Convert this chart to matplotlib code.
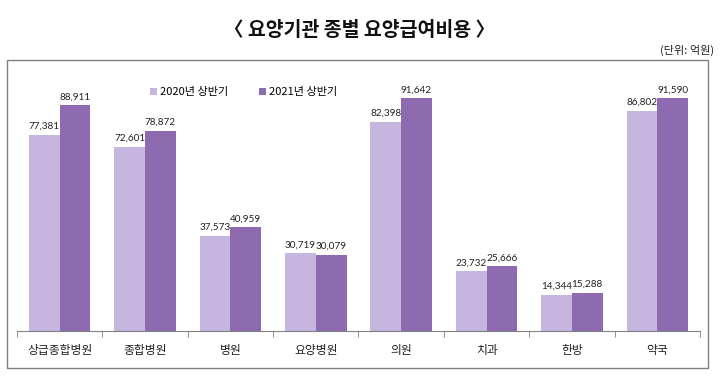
import numpy as np
import matplotlib.pyplot as plt
from matplotlib.patches import Rectangle

plt.rcParams['font.family'] = ['Noto Sans CJK KR', 'DejaVu Sans']

# 요양기관 종별 요양급여비용 (단위: 억원)
categories = ['상급종합병원', '종합병원', '병원', '요양병원', '의원', '치과', '한방', '약국']
h1_2020 = [77381, 72601, 37573, 30719, 82398, 23732, 14344, 86802]
h1_2021 = [88911, 78872, 40959, 30079, 91642, 25666, 15288, 91590]
series_names = ['2020년 상반기', '2021년 상반기']

light = '#C6B5DF'
dark = '#8E6BB1'

fig = plt.figure(figsize=(7.2, 3.77), dpi=100)

# outer frame round the chart
fig.patches.append(Rectangle((0.0097, 0.024), 0.974, 0.817, transform=fig.transFigure,
                             fill=False, edgecolor='#808080', linewidth=1.0))

ax = fig.add_axes([0.0236, 0.1207, 0.9486, 0.675])

x = np.arange(len(categories))
w = 0.36
b1 = ax.bar(x - w / 2, h1_2020, w, color=light, label=series_names[0])
b2 = ax.bar(x + w / 2, h1_2021, w, color=dark, label=series_names[1])

for bars, vals in ((b1, h1_2020), (b2, h1_2021)):
    for bar, v in zip(bars, vals):
        ax.text(bar.get_x() + bar.get_width() / 2, v + 1500, f'{v:,}',
                ha='center', va='bottom', fontsize=7.2, family=['Lato', 'DejaVu Sans'],
                color='#222222')

ax.set_xlim(-0.5, len(categories) - 0.5)
ax.set_ylim(0, 100000)
ax.set_yticks([])
ax.set_xticks(x)
ax.set_xticklabels(categories, fontsize=8.5, color='#222222')
ax.tick_params(axis='x', which='major', length=0, pad=9)
ax.set_xticks(np.arange(-0.5, len(categories), 1), minor=True)
ax.tick_params(axis='x', which='minor', length=4, color='#808080', direction='out')

for s in ('top', 'right', 'left'):
    ax.spines[s].set_visible(False)
ax.spines['bottom'].set_color('#808080')

leg = ax.legend(loc='upper left', bbox_to_anchor=(0.18, 1.0), ncol=2, frameon=False,
                fontsize=8, handlelength=0.6, handleheight=0.6, handletextpad=0.3,
                columnspacing=2.8)

fig.text(0.5, 0.92, '〈 요양기관 종별 요양급여비용 〉', ha='center', va='center',
         fontsize=14, fontweight='bold', color='#111111')
fig.text(0.992, 0.867, '(단위: 억원)', ha='right', va='center', fontsize=8, color='#222222')

fig.savefig('out.png', dpi=100)
